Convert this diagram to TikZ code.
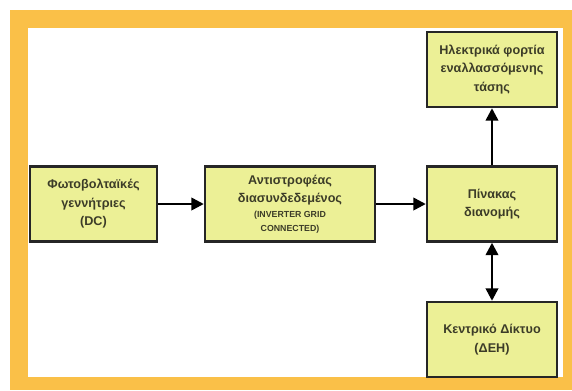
\documentclass[tikz,border=0pt]{standalone}
\usepackage{fontspec}
\setmainfont{Liberation Sans}
\usepackage{xcolor}
\definecolor{colFrame}{RGB}{250,192,72}
\definecolor{colBox}{RGB}{236,240,150}
\definecolor{colText}{RGB}{60,60,40}
\usepackage{tikz}
\usetikzlibrary{arrows.meta, positioning}

\begin{document}
\begin{tikzpicture}[x=0.02cm, y=-0.02cm,
		block/.style={draw=black!85, line width=1.4pt, fill=colBox, align=center,
			minimum width=2.6cm, minimum height=1.5cm, inner sep=1pt,
			font=\fontsize{7.2}{10.5}\selectfont\bfseries, text=colText},
		flow/.style={line width=1.4pt, -{Triangle[length=7pt, width=7pt]}}]
				\useasboundingbox (0,0) rectangle (572,390);
				% frame
				\fill[colFrame] (10,10) rectangle (572,390);
				\fill[white] (28,28) rectangle (563,377);
				% blocks
				\node[block, minimum width=2.54cm] (pv) at (93.5,204) {Φωτοβολταϊκές\\γεννήτριες\\(DC)};
				\node[block, minimum width=3.4cm] (inv) at (290,204) {Αντιστροφέας\\διασυνδεδεμένος\\[-2pt]{\fontsize{5}{6}\selectfont (INVERTER GRID}\\[-3pt]{\fontsize{5}{6}\selectfont CONNECTED)}};
				\node[block] (panel) at (492,204) {Πίνακας\\διανομής};
				\node[block] (loads) at (492,69.5) {Ηλεκτρικά φορτία\\εναλλασσόμενης\\τάσης};
				\node[block] (grid) at (492,339.5) {Κεντρικό Δίκτυο\\(ΔΕΗ)};
				% connectors
				\draw[flow] (pv) -- (inv);
				\draw[flow] (inv) -- (panel);
				\draw[flow] (panel) -- (loads);
				\draw[flow, {Triangle[length=7pt, width=7pt]}-{Triangle[length=7pt, width=7pt]}] (panel) -- (grid);
			\end{tikzpicture}
\end{document}
